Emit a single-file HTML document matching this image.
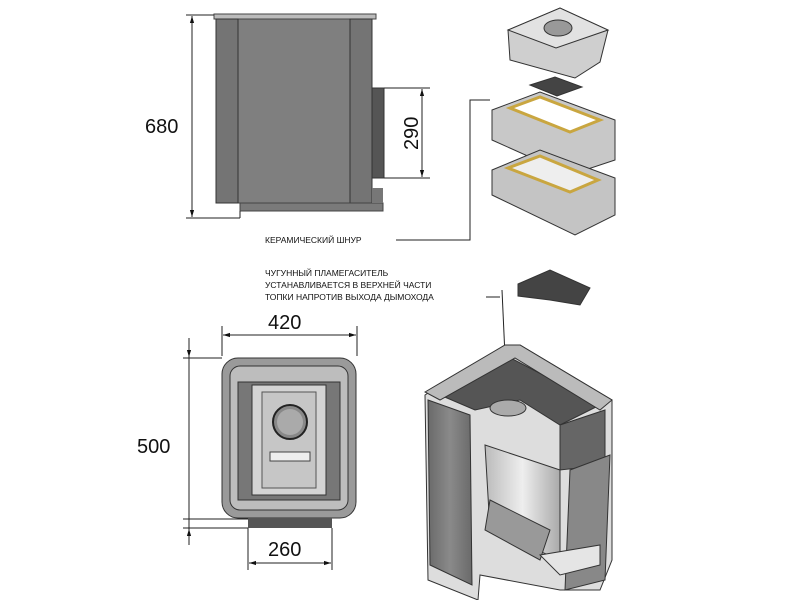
<!DOCTYPE html>
<html><head><meta charset="utf-8"><style>
html,body{margin:0;padding:0;background:#fff}
svg{display:block}
text{font-family:"Liberation Sans",sans-serif;fill:#111}
</style></head><body>
<svg width="800" height="600" viewBox="0 0 800 600" xmlns="http://www.w3.org/2000/svg">
<defs>
<marker id="a" viewBox="0 0 10 10" refX="10" refY="5" markerWidth="7" markerHeight="7" orient="auto-start-reverse"><path d="M0,2 L10,5 L0,8z" fill="#111"/></marker>
<linearGradient id="g1" x1="0" x2="1"><stop offset="0" stop-color="#6a6a6a"/><stop offset=".5" stop-color="#8a8a8a"/><stop offset="1" stop-color="#6a6a6a"/></linearGradient>
<linearGradient id="g2" x1="0" x2="1"><stop offset="0" stop-color="#bbb"/><stop offset=".5" stop-color="#eee"/><stop offset="1" stop-color="#aaa"/></linearGradient>
</defs>

<!-- side view -->
<rect x="214" y="14" width="162" height="5" fill="#bbb" stroke="#444" stroke-width="1"/>
<rect x="216" y="19" width="156" height="184" fill="#7f7f7f" stroke="#444"/>
<rect x="216" y="19" width="22" height="184" fill="#747474" stroke="#333"/>
<rect x="350" y="19" width="22" height="184" fill="#747474" stroke="#333"/>
<rect x="240" y="203" width="143" height="8" fill="#7a7a7a" stroke="#444"/>
<rect x="372" y="188" width="11" height="15" fill="#777"/>
<rect x="372" y="88" width="12" height="90" fill="#555" stroke="#333"/>
<line x1="186" y1="15" x2="214" y2="15" stroke="#222"/>
<line x1="186" y1="218" x2="240" y2="218" stroke="#222"/>
<line x1="240" y1="211" x2="240" y2="218" stroke="#222"/>
<line x1="192" y1="16" x2="192" y2="217" stroke="#222" marker-start="url(#a)" marker-end="url(#a)"/>
<text x="145" y="133" font-size="20">680</text>
<line x1="384" y1="88" x2="430" y2="88" stroke="#222"/>
<line x1="384" y1="178" x2="430" y2="178" stroke="#222"/>
<line x1="422" y1="89" x2="422" y2="177" stroke="#222" marker-start="url(#a)" marker-end="url(#a)"/>
<text transform="translate(418,150) rotate(-90)" font-size="20">290</text>

<!-- exploded parts -->
<g stroke="#333" stroke-width="1">
<polygon points="508,30 560,8 608,30 600,62 575,78 510,60" fill="#cfcfcf"/>
<polygon points="508,30 560,8 608,30 556,48" fill="#e2e2e2"/>
<ellipse cx="558" cy="28" rx="14" ry="8" fill="#999"/>
<polygon points="530,85 555,77 582,87 557,96" fill="#444"/>
<polygon points="492,110 540,92 615,120 615,160 570,175 492,140" fill="#c8c8c8"/>
<polygon points="510,108 540,97 600,120 570,132" fill="#fff" stroke="#c9a640" stroke-width="3"/>
<polygon points="492,170 540,150 615,178 615,215 575,235 492,195" fill="#c4c4c4"/>
<polygon points="508,168 540,156 598,180 570,192" fill="#eee" stroke="#c9a640" stroke-width="3"/>
<polygon points="518,284 550,270 590,288 580,305 550,300 518,296" fill="#444"/>
</g>
<polyline points="396,240 470,240 470,100 490,100" fill="none" stroke="#222"/>
<line x1="486" y1="297" x2="500" y2="297" stroke="#222"/>
<line x1="502" y1="290" x2="507" y2="400" stroke="#222"/>
<text x="265" y="243" font-size="8.5">КЕРАМИЧЕСКИЙ ШНУР</text>
<text x="265" y="276" font-size="8.5">ЧУГУННЫЙ ПЛАМЕГАСИТЕЛЬ</text>
<text x="265" y="288" font-size="8.5">УСТАНАВЛИВАЕТСЯ В ВЕРХНЕЙ ЧАСТИ</text>
<text x="265" y="300" font-size="8.5">ТОПКИ НАПРОТИВ ВЫХОДА ДЫМОХОДА</text>

<!-- top/front view -->
<rect x="222" y="358" width="134" height="160" rx="16" fill="#9a9a9a" stroke="#333"/>
<rect x="230" y="366" width="118" height="144" rx="10" fill="#bdbdbd" stroke="#333"/>
<rect x="238" y="382" width="102" height="118" fill="#777" stroke="#333"/>
<rect x="252" y="385" width="74" height="110" fill="#d4d4d4" stroke="#333"/>
<rect x="262" y="392" width="54" height="96" fill="#c6c6c6" stroke="#555"/>
<circle cx="290" cy="422" r="17" fill="#888" stroke="#222" stroke-width="2"/>
<circle cx="290" cy="422" r="13" fill="#aaa"/>
<rect x="270" y="452" width="40" height="9" fill="#eee" stroke="#444"/>
<rect x="248" y="518" width="84" height="10" fill="#555"/>
<line x1="222" y1="326" x2="222" y2="356" stroke="#222"/>
<line x1="357" y1="326" x2="357" y2="356" stroke="#222"/>
<line x1="223" y1="335" x2="356" y2="335" stroke="#222" marker-start="url(#a)" marker-end="url(#a)"/>
<text x="268" y="329" font-size="20">420</text>
<line x1="183" y1="358" x2="222" y2="358" stroke="#222"/>
<line x1="183" y1="519" x2="248" y2="519" stroke="#222"/>
<line x1="183" y1="528" x2="248" y2="528" stroke="#222"/>
<line x1="189" y1="338" x2="189" y2="545" stroke="#222"/>
<line x1="189" y1="345" x2="189" y2="357" stroke="#222" marker-end="url(#a)"/>
<line x1="189" y1="540" x2="189" y2="529" stroke="#222" marker-end="url(#a)"/>
<line x1="248" y1="528" x2="248" y2="570" stroke="#222"/>
<line x1="332" y1="528" x2="332" y2="570" stroke="#222"/>
<line x1="249" y1="563" x2="331" y2="563" stroke="#222" marker-start="url(#a)" marker-end="url(#a)"/>
<text x="137" y="453" font-size="20">500</text>
<text x="268" y="556" font-size="20">260</text>

<!-- 3D cutaway -->
<g stroke="#333" stroke-width="1">
<polygon points="425,395 505,345 520,345 612,400 612,560 600,590 560,590 480,575 478,600 428,580" fill="#ddd"/>
<polygon points="428,400 470,415 472,585 430,565" fill="url(#g1)"/>
<polygon points="440,395 505,355 600,405 560,425 520,400 475,410" fill="#555"/>
<polygon points="425,392 505,345 520,345 612,400 600,410 515,358 440,400" fill="#bbb"/>
<polygon points="560,425 605,410 605,465 560,470" fill="#666"/>
<polygon points="570,470 610,455 605,580 565,590" fill="#888"/>
<polygon points="485,445 560,470 560,560 490,530" fill="url(#g2)"/>
<polygon points="490,500 550,530 540,560 485,530" fill="#999"/>
<ellipse cx="508" cy="408" rx="18" ry="8" fill="#aaa"/>
<polygon points="540,555 600,545 600,565 560,575" fill="#e5e5e5"/>
</g>
</svg>
</body></html>
